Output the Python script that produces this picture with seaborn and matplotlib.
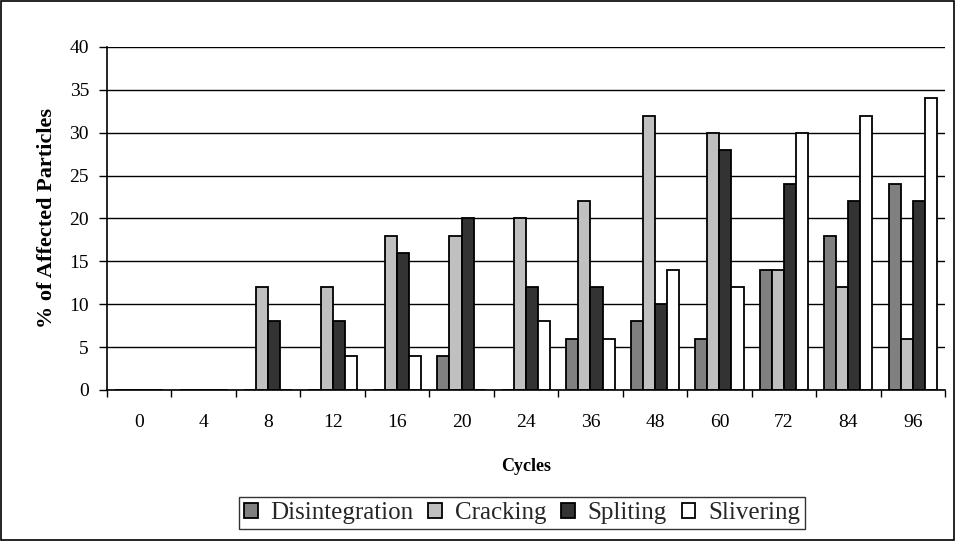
import matplotlib
matplotlib.use("Agg")
import matplotlib.pyplot as plt
import seaborn as sns
import pandas as pd
from matplotlib.patches import Rectangle

cycles = ["0", "4", "8", "12", "16", "20", "24", "36", "48", "60", "72", "84", "96"]
disintegration = [0, 0, 0, 0, 0, 4, 0, 6, 8, 6, 14, 18, 24]
cracking = [0, 0, 12, 12, 18, 18, 20, 22, 32, 30, 14, 12, 6]
spliting = [0, 0, 8, 8, 16, 20, 12, 12, 10, 28, 24, 22, 22]
slivering = [0, 0, 0, 4, 4, 0, 8, 6, 14, 12, 30, 32, 34]
series_names = ["Disintegration", "Cracking", "Spliting", "Slivering"]
colors = ["#808080", "#C0C0C0", "#333333", "#FFFFFF"]

rows = []
for name, vals in zip(series_names, [disintegration, cracking, spliting, slivering]):
    for c, v in zip(cycles, vals):
        rows.append({"Cycles": c, "Value": v, "Type": name})
df = pd.DataFrame(rows)

sns.set_theme(style="white")
plt.rcParams["font.family"] = ["Liberation Serif", "DejaVu Serif"]

fig = plt.figure(figsize=(9.56, 5.41), dpi=100)
ax = fig.add_axes([107/956, 1-390/541, (945-107)/956, (390-47)/541])

sns.barplot(data=df, x="Cycles", y="Value", hue="Type", order=cycles,
            hue_order=series_names, palette=colors, width=0.75,
            edgecolor="black", linewidth=1.3, saturation=1, ax=ax, legend=True)

ax.set_ylim(0, 40)
ax.set_xlim(-0.5, len(cycles) - 0.5)
ax.set_yticks(range(0, 41, 5))
ax.yaxis.grid(True, color="black", linewidth=1)
ax.set_axisbelow(True)
for s in ["top", "right"]:
    ax.spines[s].set_visible(False)
for s in ["left", "bottom"]:
    ax.spines[s].set_color("black")
    ax.spines[s].set_linewidth(1.2)

ax.tick_params(axis="y", which="major", length=6, width=1, color="black",
               direction="out", left=True, labelsize=14, pad=7)
ax.set_xticks(range(len(cycles)))
ax.set_xticklabels(cycles, fontsize=14)
ax.tick_params(axis="x", which="major", length=0, pad=17)
ax.set_xticks([i + 0.5 for i in range(-1, len(cycles))], minor=True)
ax.tick_params(axis="x", which="minor", length=5, width=1, color="black",
               direction="out", bottom=True)
for lab in ax.get_yticklabels() + ax.get_xticklabels():
    lab.set_color("black")

ax.set_xlabel("Cycles", fontsize=13, fontweight="bold", color="black", labelpad=20)
ax.set_ylabel("% of Affected Particles", fontsize=16, fontweight="bold",
              color="black", labelpad=9)

handles, labels = ax.get_legend_handles_labels()
ax.legend_.remove()
leg = fig.legend(handles, labels, loc="center", bbox_to_anchor=(522/956, 1-513/541),
                 ncol=4, frameon=True, fancybox=False, edgecolor="black",
                 fontsize=18, handlelength=0.55, handleheight=0.55,
                 handletextpad=0.5, columnspacing=0.6, borderpad=0.2,
                 borderaxespad=0)
leg.get_frame().set_linewidth(1)

fig.patches.append(Rectangle((0.001, 0.002), 0.997, 0.996, transform=fig.transFigure,
                             fill=False, edgecolor="black", linewidth=1.2))

fig.savefig("out.png", dpi=100)
